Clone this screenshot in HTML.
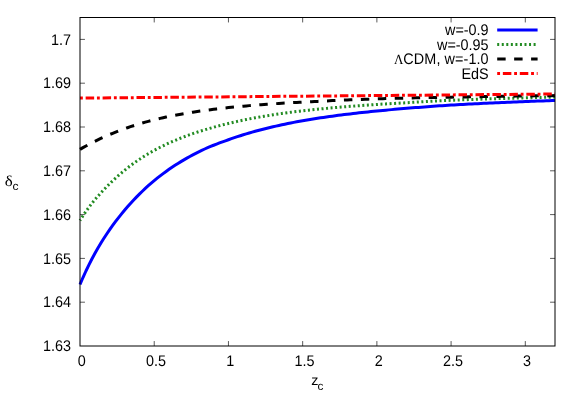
<!DOCTYPE html>
<html><head><meta charset="utf-8"><title>plot</title>
<style>
html,body{margin:0;padding:0;background:#fff;}
svg{display:block;will-change:transform;}
text{text-rendering:geometricPrecision;font-family:"Liberation Sans",sans-serif;font-size:14.4px;fill:#000;}
.sym{font-family:"Liberation Serif",serif;}
</style></head><body>
<svg width="581" height="407" viewBox="0 0 581 407">
<rect width="581" height="407" fill="#fff"/>
<g stroke="#000" stroke-width="0.65" fill="none">
<path d="M80.0,302.20h4.95M555.0,302.20h-4.95"/>
<path d="M80.0,258.40h4.95M555.0,258.40h-4.95"/>
<path d="M80.0,214.60h4.95M555.0,214.60h-4.95"/>
<path d="M80.0,170.80h4.95M555.0,170.80h-4.95"/>
<path d="M80.0,127.00h4.95M555.0,127.00h-4.95"/>
<path d="M80.0,83.20h4.95M555.0,83.20h-4.95"/>
<path d="M80.0,39.40h4.95M555.0,39.40h-4.95"/>
<path d="M154.22,346.0v-4.95M154.22,17.5v4.95"/>
<path d="M228.44,346.0v-4.95M228.44,17.5v4.95"/>
<path d="M302.66,346.0v-4.95M302.66,17.5v4.95"/>
<path d="M376.88,346.0v-4.95M376.88,17.5v4.95"/>
<path d="M451.09,346.0v-4.95M451.09,17.5v4.95"/>
<path d="M525.31,346.0v-4.95M525.31,17.5v4.95"/>
</g>
<text transform="translate(71.00,351.10) scale(1,1.07)" text-anchor="end">1.63</text>
<text transform="translate(71.00,307.30) scale(1,1.07)" text-anchor="end">1.64</text>
<text transform="translate(71.00,263.50) scale(1,1.07)" text-anchor="end">1.65</text>
<text transform="translate(71.00,219.70) scale(1,1.07)" text-anchor="end">1.66</text>
<text transform="translate(71.00,175.90) scale(1,1.07)" text-anchor="end">1.67</text>
<text transform="translate(71.00,132.10) scale(1,1.07)" text-anchor="end">1.68</text>
<text transform="translate(71.00,88.30) scale(1,1.07)" text-anchor="end">1.69</text>
<text transform="translate(71.00,44.50) scale(1,1.07)" text-anchor="end">1.7</text>
<text transform="translate(81.80,365.80) scale(1,1.07)" text-anchor="middle">0</text>
<text transform="translate(156.02,365.80) scale(1,1.07)" text-anchor="middle">0.5</text>
<text transform="translate(230.24,365.80) scale(1,1.07)" text-anchor="middle">1</text>
<text transform="translate(304.46,365.80) scale(1,1.07)" text-anchor="middle">1.5</text>
<text transform="translate(378.68,365.80) scale(1,1.07)" text-anchor="middle">2</text>
<text transform="translate(452.89,365.80) scale(1,1.07)" text-anchor="middle">2.5</text>
<text transform="translate(527.11,365.80) scale(1,1.07)" text-anchor="middle">3</text>
<text transform="translate(311.30,385.30) scale(1,1.0)" style="font-size:14.4px">z</text>
<text transform="translate(317.60,389.80) scale(1.03,1.03)" style="font-size:11.5px">c</text>
<text transform="translate(4.80,185.50) scale(1.13,1.0)" style="font-size:15px" class="sym">δ</text>
<text transform="translate(12.50,189.70) scale(1.05,1.0)" style="font-size:11.5px">c</text>
<g fill="none" stroke-width="3" stroke-linecap="butt" stroke-linejoin="round">
<path d="M80.00,284.48 L82.97,277.51 L85.94,271.00 L88.91,264.87 L91.88,259.05 L94.84,253.52 L97.81,248.23 L100.78,243.25 L103.75,238.51 L106.72,233.96 L109.69,229.62 L112.66,225.45 L115.62,221.44 L118.59,217.57 L121.56,213.84 L124.53,210.25 L127.50,206.78 L130.47,203.44 L133.44,200.22 L136.41,197.11 L139.38,194.11 L142.34,191.22 L145.31,188.43 L148.28,185.73 L151.25,183.14 L154.22,180.63 L157.19,178.21 L160.16,175.87 L163.12,173.62 L166.09,171.44 L169.06,169.34 L172.03,167.30 L175.00,165.34 L177.97,163.44 L180.94,161.61 L183.91,159.84 L186.88,158.13 L189.84,156.47 L192.81,154.87 L195.78,153.32 L198.75,151.82 L201.72,150.38 L204.69,149.00 L207.66,147.69 L210.62,146.44 L213.59,145.24 L216.56,144.08 L219.53,142.95 L222.50,141.86 L225.47,140.79 L228.44,139.73 L231.41,138.68 L234.38,137.66 L237.34,136.67 L240.31,135.70 L243.28,134.77 L246.25,133.87 L249.22,132.99 L252.19,132.14 L255.16,131.31 L258.12,130.51 L261.09,129.73 L264.06,128.96 L267.03,128.22 L270.00,127.50 L272.97,126.79 L275.94,126.11 L278.91,125.44 L281.88,124.79 L284.84,124.16 L287.81,123.55 L290.78,122.95 L293.75,122.37 L296.72,121.81 L299.69,121.27 L302.66,120.74 L305.62,120.23 L308.59,119.72 L311.56,119.24 L314.53,118.76 L317.50,118.30 L320.47,117.84 L323.44,117.40 L326.41,116.97 L329.38,116.55 L332.34,116.14 L335.31,115.74 L338.28,115.35 L341.25,114.97 L344.22,114.60 L347.19,114.24 L350.16,113.89 L353.12,113.54 L356.09,113.20 L359.06,112.86 L362.03,112.54 L365.00,112.22 L367.97,111.90 L370.94,111.60 L373.91,111.30 L376.88,111.00 L379.84,110.71 L382.81,110.43 L385.78,110.15 L388.75,109.88 L391.72,109.62 L394.69,109.35 L397.66,109.10 L400.62,108.85 L403.59,108.60 L406.56,108.35 L409.53,108.10 L412.50,107.86 L415.47,107.62 L418.44,107.38 L421.41,107.14 L424.38,106.91 L427.34,106.69 L430.31,106.46 L433.28,106.25 L436.25,106.04 L439.22,105.83 L442.19,105.63 L445.16,105.44 L448.12,105.26 L451.09,105.08 L454.06,104.91 L457.03,104.74 L460.00,104.58 L462.97,104.42 L465.94,104.26 L468.91,104.10 L471.88,103.95 L474.84,103.80 L477.81,103.65 L480.78,103.50 L483.75,103.36 L486.72,103.22 L489.69,103.08 L492.66,102.94 L495.63,102.81 L498.59,102.67 L501.56,102.54 L504.53,102.41 L507.50,102.29 L510.47,102.16 L513.44,102.04 L516.41,101.92 L519.38,101.80 L522.34,101.68 L525.31,101.57 L528.28,101.46 L531.25,101.34 L534.22,101.23 L537.19,101.12 L540.16,101.02 L543.12,100.91 L546.09,100.81 L549.06,100.70 L552.03,100.60 L555.00,100.50" stroke="#0000ff"/>
<path d="M80.00,220.35 L82.97,215.78 L85.94,211.45 L88.91,207.34 L91.88,203.43 L94.84,199.73 L97.81,196.30 L100.78,192.99 L103.75,189.79 L106.72,186.71 L109.69,183.72 L112.66,180.82 L115.62,178.04 L118.59,175.37 L121.56,172.80 L124.53,170.33 L127.50,167.96 L130.47,165.68 L133.44,163.50 L136.41,161.39 L139.38,159.37 L142.34,157.43 L145.31,155.56 L148.28,153.77 L151.25,152.05 L154.22,150.39 L157.19,148.80 L160.16,147.27 L163.12,145.79 L166.09,144.37 L169.06,143.00 L172.03,141.68 L175.00,140.41 L177.97,139.18 L180.94,137.99 L183.91,136.85 L186.88,135.74 L189.84,134.68 L192.81,133.64 L195.78,132.65 L198.75,131.68 L201.72,130.74 L204.69,129.83 L207.66,128.95 L210.62,128.09 L213.59,127.26 L216.56,126.45 L219.53,125.66 L222.50,124.89 L225.47,124.15 L228.44,123.43 L231.41,122.73 L234.38,122.04 L237.34,121.38 L240.31,120.74 L243.28,120.12 L246.25,119.51 L249.22,118.93 L252.19,118.36 L255.16,117.81 L258.12,117.27 L261.09,116.75 L264.06,116.24 L267.03,115.75 L270.00,115.26 L272.97,114.80 L275.94,114.34 L278.91,113.89 L281.88,113.46 L284.84,113.05 L287.81,112.64 L290.78,112.25 L293.75,111.87 L296.72,111.50 L299.69,111.15 L302.66,110.81 L305.62,110.48 L308.59,110.16 L311.56,109.84 L314.53,109.53 L317.50,109.23 L320.47,108.94 L323.44,108.65 L326.41,108.37 L329.38,108.10 L332.34,107.83 L335.31,107.57 L338.28,107.32 L341.25,107.07 L344.22,106.83 L347.19,106.59 L350.16,106.35 L353.12,106.13 L356.09,105.90 L359.06,105.69 L362.03,105.47 L365.00,105.26 L367.97,105.06 L370.94,104.86 L373.91,104.66 L376.88,104.47 L379.84,104.28 L382.81,104.10 L385.78,103.92 L388.75,103.74 L391.72,103.57 L394.69,103.39 L397.66,103.23 L400.62,103.06 L403.59,102.90 L406.56,102.73 L409.53,102.55 L412.50,102.37 L415.47,102.20 L418.44,102.02 L421.41,101.84 L424.38,101.66 L427.34,101.49 L430.31,101.32 L433.28,101.15 L436.25,100.99 L439.22,100.83 L442.19,100.68 L445.16,100.54 L448.12,100.41 L451.09,100.28 L454.06,100.16 L457.03,100.05 L460.00,99.93 L462.97,99.82 L465.94,99.70 L468.91,99.59 L471.88,99.49 L474.84,99.38 L477.81,99.27 L480.78,99.17 L483.75,99.07 L486.72,98.97 L489.69,98.87 L492.66,98.77 L495.63,98.68 L498.59,98.58 L501.56,98.49 L504.53,98.40 L507.50,98.31 L510.47,98.22 L513.44,98.14 L516.41,98.05 L519.38,97.97 L522.34,97.89 L525.31,97.81 L528.28,97.73 L531.25,97.65 L534.22,97.58 L537.19,97.50 L540.16,97.43 L543.12,97.36 L546.09,97.29 L549.06,97.22 L552.03,97.15 L555.00,97.08" stroke="#228b22" stroke-dasharray="2 2.55" stroke-dashoffset="1"/>
<path d="M80.00,149.39 L82.97,147.67 L85.94,146.00 L88.91,144.40 L91.88,142.84 L94.84,141.33 L97.81,139.87 L100.78,138.46 L103.75,137.10 L106.72,135.78 L109.69,134.51 L112.66,133.28 L115.62,132.08 L118.59,130.93 L121.56,129.82 L124.53,128.75 L127.50,127.71 L130.47,126.70 L133.44,125.73 L136.41,124.80 L139.38,123.89 L142.34,123.02 L145.31,122.17 L148.28,121.36 L151.25,120.57 L154.22,119.82 L157.19,119.09 L160.16,118.39 L163.12,117.71 L166.09,117.06 L169.06,116.44 L172.03,115.84 L175.00,115.26 L177.97,114.70 L180.94,114.16 L183.91,113.64 L186.88,113.14 L189.84,112.65 L192.81,112.18 L195.78,111.72 L198.75,111.28 L201.72,110.85 L204.69,110.44 L207.66,110.04 L210.62,109.65 L213.59,109.28 L216.56,108.92 L219.53,108.57 L222.50,108.23 L225.47,107.91 L228.44,107.59 L231.41,107.28 L234.38,106.99 L237.34,106.70 L240.31,106.42 L243.28,106.15 L246.25,105.89 L249.22,105.63 L252.19,105.38 L255.16,105.14 L258.12,104.91 L261.09,104.68 L264.06,104.46 L267.03,104.25 L270.00,104.04 L272.97,103.84 L275.94,103.64 L278.91,103.45 L281.88,103.27 L284.84,103.09 L287.81,102.92 L290.78,102.75 L293.75,102.58 L296.72,102.42 L299.69,102.27 L302.66,102.11 L305.62,101.97 L308.59,101.82 L311.56,101.68 L314.53,101.54 L317.50,101.38 L320.47,101.23 L323.44,101.08 L326.41,100.92 L329.38,100.77 L332.34,100.61 L335.31,100.47 L338.28,100.32 L341.25,100.19 L344.22,100.06 L347.19,99.94 L350.16,99.82 L353.12,99.71 L356.09,99.60 L359.06,99.48 L362.03,99.38 L365.00,99.27 L367.97,99.17 L370.94,99.07 L373.91,98.97 L376.88,98.87 L379.84,98.78 L382.81,98.69 L385.78,98.61 L388.75,98.52 L391.72,98.44 L394.69,98.36 L397.66,98.29 L400.62,98.21 L403.59,98.14 L406.56,98.07 L409.53,98.01 L412.50,97.94 L415.47,97.87 L418.44,97.81 L421.41,97.74 L424.38,97.68 L427.34,97.62 L430.31,97.56 L433.28,97.50 L436.25,97.44 L439.22,97.38 L442.19,97.33 L445.16,97.27 L448.12,97.21 L451.09,97.16 L454.06,97.11 L457.03,97.05 L460.00,97.00 L462.97,96.95 L465.94,96.90 L468.91,96.85 L471.88,96.80 L474.84,96.75 L477.81,96.70 L480.78,96.65 L483.75,96.60 L486.72,96.56 L489.69,96.51 L492.66,96.47 L495.63,96.42 L498.59,96.38 L501.56,96.33 L504.53,96.29 L507.50,96.24 L510.47,96.20 L513.44,96.16 L516.41,96.12 L519.38,96.07 L522.34,96.03 L525.31,95.99 L528.28,95.95 L531.25,95.91 L534.22,95.87 L537.19,95.83 L540.16,95.79 L543.12,95.75 L546.09,95.72 L549.06,95.68 L552.03,95.64 L555.00,95.60" stroke="#000" stroke-dasharray="8.45 8.5"/>
<path d="M80.00,98.10 L555.00,94.00" stroke="#ff0000" stroke-dasharray="2.85 2.8 8.5 2.8"/>
<path d="M497.2,30H537.6" stroke="#0000ff"/>
<path d="M497.2,44.5H537.6" stroke="#228b22" stroke-dasharray="2 2.55"/>
<path d="M497.2,59H537.6" stroke="#000" stroke-dasharray="8.45 8.5"/>
<path d="M497.2,73.5H537.6" stroke="#ff0000" stroke-dasharray="2.85 2.8 8.5 2.8"/>
</g>
<text transform="translate(488.60,35.20) scale(1,1.07)" text-anchor="end">w=-0.9</text>
<text transform="translate(488.60,49.70) scale(1,1.07)" text-anchor="end">w=-0.95</text>
<text transform="translate(394.00,64.20) scale(1,1.07)" text-anchor="start"><tspan class="sym" style="font-size:13px">Λ</tspan></text>
<text transform="translate(488.70,64.20) scale(1,1.07)" text-anchor="end"><tspan letter-spacing="0.09px">CDM, w=-1.0</tspan></text>
<text transform="translate(488.60,78.70) scale(1,1.07)" text-anchor="end">EdS</text>
<rect x="80.0" y="17.5" width="475.0" height="328.5" fill="none" stroke="#000" stroke-width="1"/>
</svg></body></html>
